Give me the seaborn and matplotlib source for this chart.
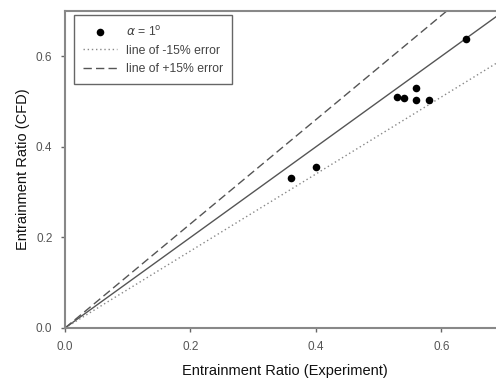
import numpy as np
import pandas as pd
import matplotlib
matplotlib.use("Agg")
import matplotlib.pyplot as plt
import seaborn as sns

# Data
exp_ratio = [0.36, 0.40, 0.53, 0.54, 0.56, 0.56, 0.58, 0.64]
cfd_ratio = [0.331, 0.356, 0.510, 0.507, 0.529, 0.503, 0.503, 0.638]
ref_x = [0.0, 0.75]
x_ticks = [0.0, 0.2, 0.4, 0.6]
y_ticks = [0.0, 0.2, 0.4, 0.6]

sns.set_theme(style="white")
plt.rcParams['font.family'] = ['Liberation Sans', 'DejaVu Sans']

W, H = 496, 383
fig = plt.figure(figsize=(W / 100, H / 100), dpi=100)
left, right, bottom, top = 65, 504, 328, 11
ax = fig.add_axes([left / W, 1 - bottom / H, (right - left) / W, (bottom - top) / H])

pts = pd.DataFrame({"x": exp_ratio, "y": cfd_ratio})
lines = pd.DataFrame({"x": ref_x, "y": ref_x})
lines_m = pd.DataFrame({"x": ref_x, "y": [v * 0.85 for v in ref_x]})
lines_p = pd.DataFrame({"x": ref_x, "y": [v * 1.15 for v in ref_x]})

sns.lineplot(data=lines, x="x", y="y", ax=ax, color="#555555", lw=1.0, label="_nolegend_")
sns.lineplot(data=lines_m, x="x", y="y", ax=ax, color="#888888", lw=1.0,
             linestyle=(0, (1, 2)), label="line of -15% error")
sns.lineplot(data=lines_p, x="x", y="y", ax=ax, color="#555555", lw=1.0,
             linestyle=(0, (6, 3)), label="line of +15% error")
sns.scatterplot(data=pts, x="x", y="y", ax=ax, color="black", s=30, edgecolor="black",
                linewidth=0, zorder=5, label=r"$\alpha$ = 1$^{\rm o}$")

ax.set_xlim(0, 0.7)
ax.set_ylim(0, 0.7)
ax.set_xticks(x_ticks)
ax.set_yticks(y_ticks)
ax.set_xticklabels([f"{v:.1f}" for v in x_ticks], color="#555555", fontsize=8.5)
ax.set_yticklabels([f"{v:.1f}" for v in y_ticks], color="#555555", fontsize=8.5)
ax.tick_params(axis="x", direction="out", length=3, width=1, color="#666666", pad=6, bottom=True)
ax.tick_params(axis="y", direction="out", length=3, width=1, color="#666666", pad=6, left=True)
ax.set_xlabel("Entrainment Ratio (Experiment)", fontsize=10.5, color="#111111", labelpad=8)
ax.set_ylabel("Entrainment Ratio (CFD)", fontsize=10.5, color="#111111", labelpad=4)

for s in ["left", "bottom", "top", "right"]:
    ax.spines[s].set_color("#888888")
    ax.spines[s].set_linewidth(1.5)

handles, labels = ax.get_legend_handles_labels()
order = [labels.index(l) for l in [r"$\alpha$ = 1$^{\rm o}$", "line of -15% error", "line of +15% error"]]
leg = ax.legend([handles[i] for i in order], [labels[i] for i in order],
                loc="upper left", bbox_to_anchor=(0.017, 0.99), fontsize=8.8,
                frameon=True, fancybox=False, edgecolor="#666666", framealpha=1,
                handlelength=2.8, handletextpad=0.7, borderpad=0.75, labelspacing=0.5,
                borderaxespad=0.1)
leg.get_frame().set_linewidth(1.0)
for t in leg.get_texts():
    t.set_color("#444444")

fig.savefig("out.png", dpi=100)
